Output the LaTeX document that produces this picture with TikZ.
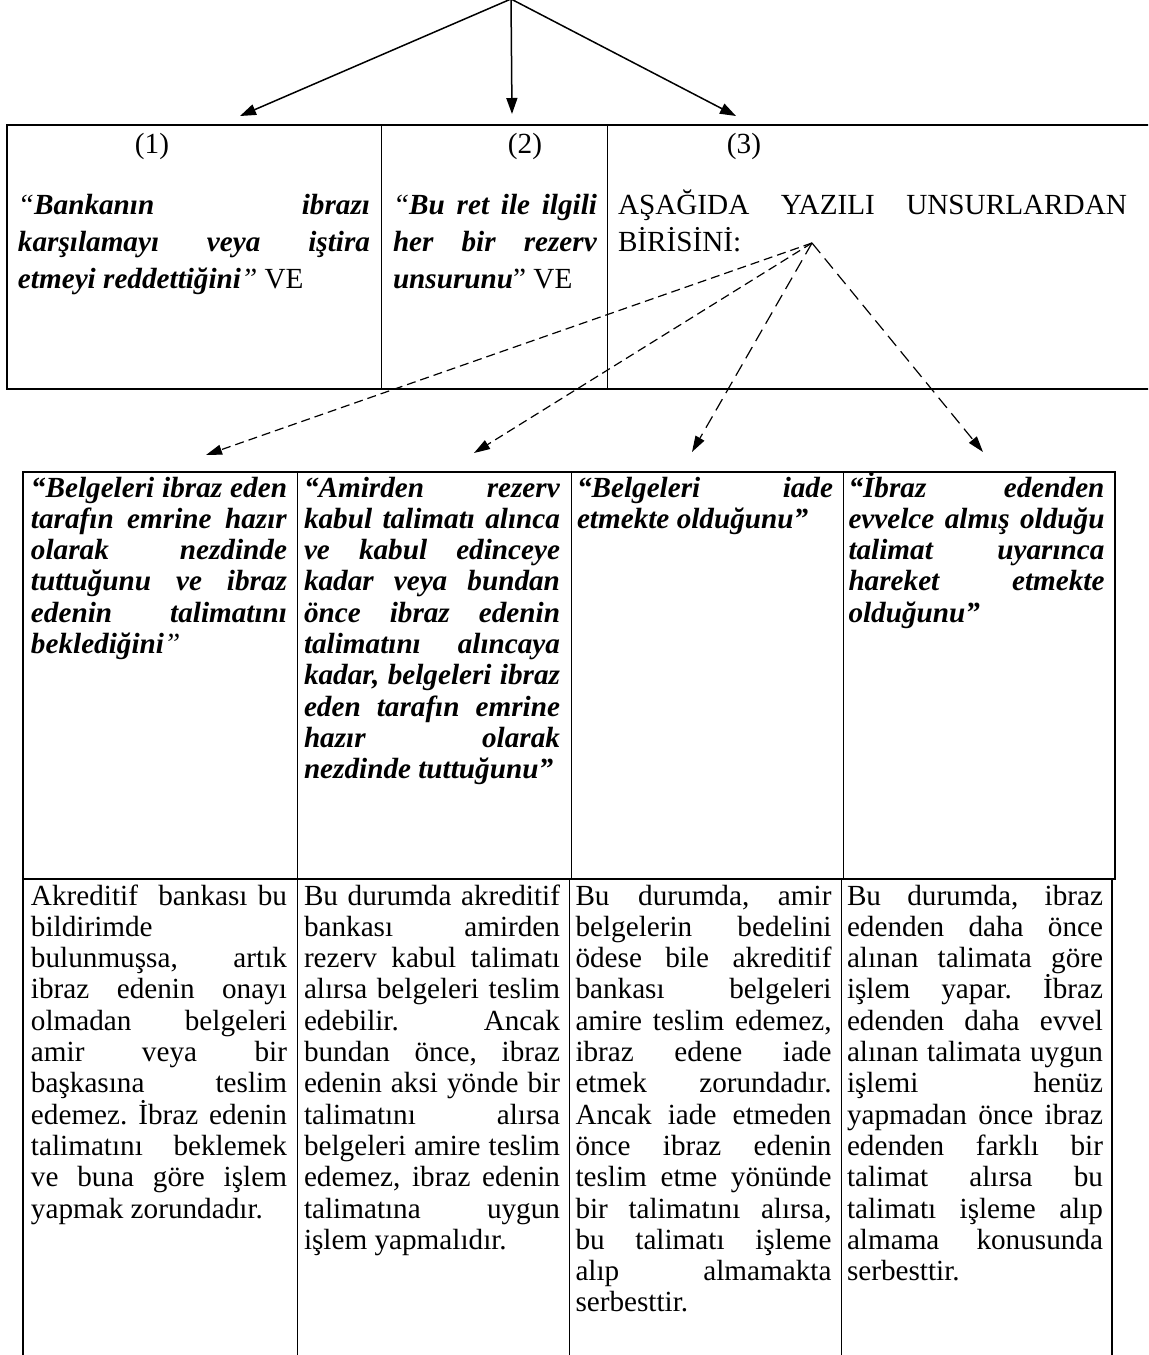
\documentclass[tikz,border=0pt]{standalone}
\usepackage{fontspec}
\setmainfont{Liberation Serif}
\usetikzlibrary{arrows.meta}
\newlength\cw
\newcommand\JL[1]{\hbox to\cw{\spaceskip=0.25em plus 1fil minus 0.05em\relax #1}}
\newcommand\LL[1]{\hbox{#1}}
\newcommand\FR{\rule{0pt}{14pt}}
\newcommand\bi[1]{\textbf{\textit{#1}}}
\newcommand\cellbox[2]{\vtop{\hsize=#1\relax\cw=#1\relax #2}}
\newcommand\lowfont{\fontsize{14.6pt}{15.65pt}\selectfont\frenchspacing}
\newcommand\topfont{\fontsize{14.6pt}{18.5pt}\selectfont\frenchspacing}
\tikzset{
  outer/.style={line width=1pt},
  inner/.style={line width=0.5pt},
  cell/.style={anchor=north west, inner sep=0pt, outer sep=0pt},
  lowcell/.style={cell, font=\lowfont},
  topcell/.style={cell, font=\topfont},
  lab/.style={anchor=base, inner sep=0pt, font=\topfont},
  solidarrow/.style={line width=0.75pt, -{Triangle[length=8pt,width=5.5pt]}},
  dasharrow/.style={line width=0.6pt, dash pattern=on 4.5pt off 2.5pt, -{Triangle[length=8pt,width=5pt]}},
  longdasharrow/.style={dasharrow, dash pattern=on 6.5pt off 3.5pt},
}
\begin{document}
\begin{tikzpicture}[x=0.5pt,y=-0.5pt]
\useasboundingbox (0,0) rectangle (1148,1355);
\fill[white] (0,0) rectangle (1148,1355);
\clip (0,0) rectangle (1148,1355);

% ---------- top box ----------
\draw[outer] (1170,124.5) -- (7,124.5) -- (7,389) -- (1170,389);
\draw[inner] (381,124.5) -- (381,389) (607,124.5) -- (607,389);

\node[lab] (lab1) at (152,153) {(1)};
\node[lab] (lab2) at (525,153) {(2)};
\node[lab] (lab3) at (744,153) {(3)};

\node[topcell] (top1) at (18,186) {\cellbox{176pt}{%
\JL{\FR\textit{“}\bi{Bankanın ibrazı}}
\JL{\bi{karşılamayı veya iştira}}
\LL{\bi{etmeyi reddettiğini}\textit{”} VE}}};

\node[topcell] (top2) at (393,186) {\cellbox{102pt}{%
\JL{\FR\textit{“}\bi{Bu ret ile ilgili}}
\JL{\bi{her bir rezerv}}
\LL{\bi{unsurunu}” VE}}};

\node[topcell] (top3) at (618,186) {\cellbox{254.5pt}{%
\JL{\FR AŞAĞIDA YAZILI UNSURLARDAN}
\LL{BİRİSİNİ:}}};

% ---------- lower table ----------
\draw[outer] (23.3,472) rectangle (1115,879);
\draw[inner] (297.7,472) -- (297.7,879) (571,472) -- (571,879) (843,472) -- (843,879);
\draw[outer] (23.3,879) -- (23.3,1365) (1112,879) -- (1112,1365);
\draw[inner] (297.7,879) -- (297.7,1365) (569,879) -- (569,1365) (841,879) -- (841,1365);

\node[lowcell] (up1) at (31,469) {\cellbox{128pt}{%
\JL{\FR\bi{“Belgeleri ibraz eden}}
\JL{\bi{tarafın emrine hazır}}
\JL{\bi{olarak nezdinde}}
\JL{\bi{tuttuğunu ve ibraz}}
\JL{\bi{edenin talimatını}}
\LL{\bi{beklediğini}\textit{”}}}};

\node[lowcell] (up2) at (304,469) {\cellbox{128pt}{%
\JL{\FR\bi{“Amirden rezerv}}
\JL{\bi{kabul talimatı alınca}}
\JL{\bi{ve kabul edinceye}}
\JL{\bi{kadar veya bundan}}
\JL{\bi{önce ibraz edenin}}
\JL{\bi{talimatını alıncaya}}
\JL{\bi{kadar, belgeleri ibraz}}
\JL{\bi{eden tarafın emrine}}
\JL{\bi{hazır olarak}}
\LL{\bi{nezdinde tuttuğunu”}}}};

\node[lowcell] (up3) at (577,469) {\cellbox{128pt}{%
\JL{\FR\bi{“Belgeleri iade}}
\LL{\bi{etmekte olduğunu”}}}};

\node[lowcell] (up4) at (848.5,469) {\cellbox{128pt}{%
\JL{\FR\bi{“İbraz edenden}}
\JL{\bi{evvelce almış olduğu}}
\JL{\bi{talimat uyarınca}}
\JL{\bi{hareket etmekte}}
\LL{\bi{olduğunu”}}}};

\node[lowcell] (low1) at (31,877) {\cellbox{128pt}{%
\JL{\FR Akreditif\ \ bankası bu}
\LL{bildirimde}
\JL{bulunmuşsa, artık}
\JL{ibraz edenin onayı}
\JL{olmadan belgeleri}
\JL{amir veya bir}
\JL{başkasına teslim}
\JL{edemez. İbraz edenin}
\JL{talimatını beklemek}
\JL{ve buna göre işlem}
\LL{yapmak zorundadır.}}};

\node[lowcell] (low2) at (304,877) {\cellbox{128pt}{%
\JL{\FR Bu durumda akreditif}
\JL{bankası amirden}
\JL{rezerv kabul talimatı}
\JL{alırsa belgeleri teslim}
\JL{edebilir. Ancak}
\JL{bundan önce, ibraz}
\JL{edenin aksi yönde bir}
\JL{talimatını alırsa}
\JL{belgeleri amire teslim}
\JL{edemez, ibraz edenin}
\JL{talimatına uygun}
\LL{işlem yapmalıdır.}}};

\node[lowcell] (low3) at (575.5,877) {\cellbox{128pt}{%
\JL{\FR Bu durumda, amir}
\JL{belgelerin bedelini}
\JL{ödese bile akreditif}
\JL{bankası belgeleri}
\JL{amire teslim edemez,}
\JL{ibraz edene iade}
\JL{etmek zorundadır.}
\JL{Ancak iade etmeden}
\JL{önce ibraz edenin}
\JL{teslim etme yönünde}
\JL{bir talimatını alırsa,}
\JL{bu talimatı işleme}
\JL{alıp almamakta}
\LL{serbesttir.}}};

\node[lowcell] (low4) at (847,877) {\cellbox{128pt}{%
\JL{\FR Bu durumda, ibraz}
\JL{edenden daha önce}
\JL{alınan talimata göre}
\JL{işlem yapar. İbraz}
\JL{edenden daha evvel}
\JL{alınan talimata uygun}
\JL{işlemi henüz}
\JL{yapmadan önce ibraz}
\JL{edenden farklı bir}
\JL{talimat alırsa bu}
\JL{talimatı işleme alıp}
\JL{almama konusunda}
\LL{serbesttir.}}};

% ---------- arrows ----------
\coordinate (apex) at (511,-1);
\coordinate (t1) at (240,116);
\coordinate (t2) at (512,114);
\coordinate (t3) at (736,116);
\draw[solidarrow] (apex) -- (t1);
\draw[solidarrow] (apex) -- (t2);
\draw[solidarrow] (apex) -- (t3);

\coordinate (dapex) at (812,243);
\coordinate (d1) at (206,455);
\coordinate (d2) at (474,453);
\coordinate (d3) at (692,452);
\coordinate (d4) at (983,452);
\draw[dasharrow] (dapex) -- (d1);
\draw[dasharrow] (dapex) -- (d2);
\draw[longdasharrow] (dapex) -- (d3);
\draw[longdasharrow] (dapex) -- (d4);
\end{tikzpicture}
\end{document}
